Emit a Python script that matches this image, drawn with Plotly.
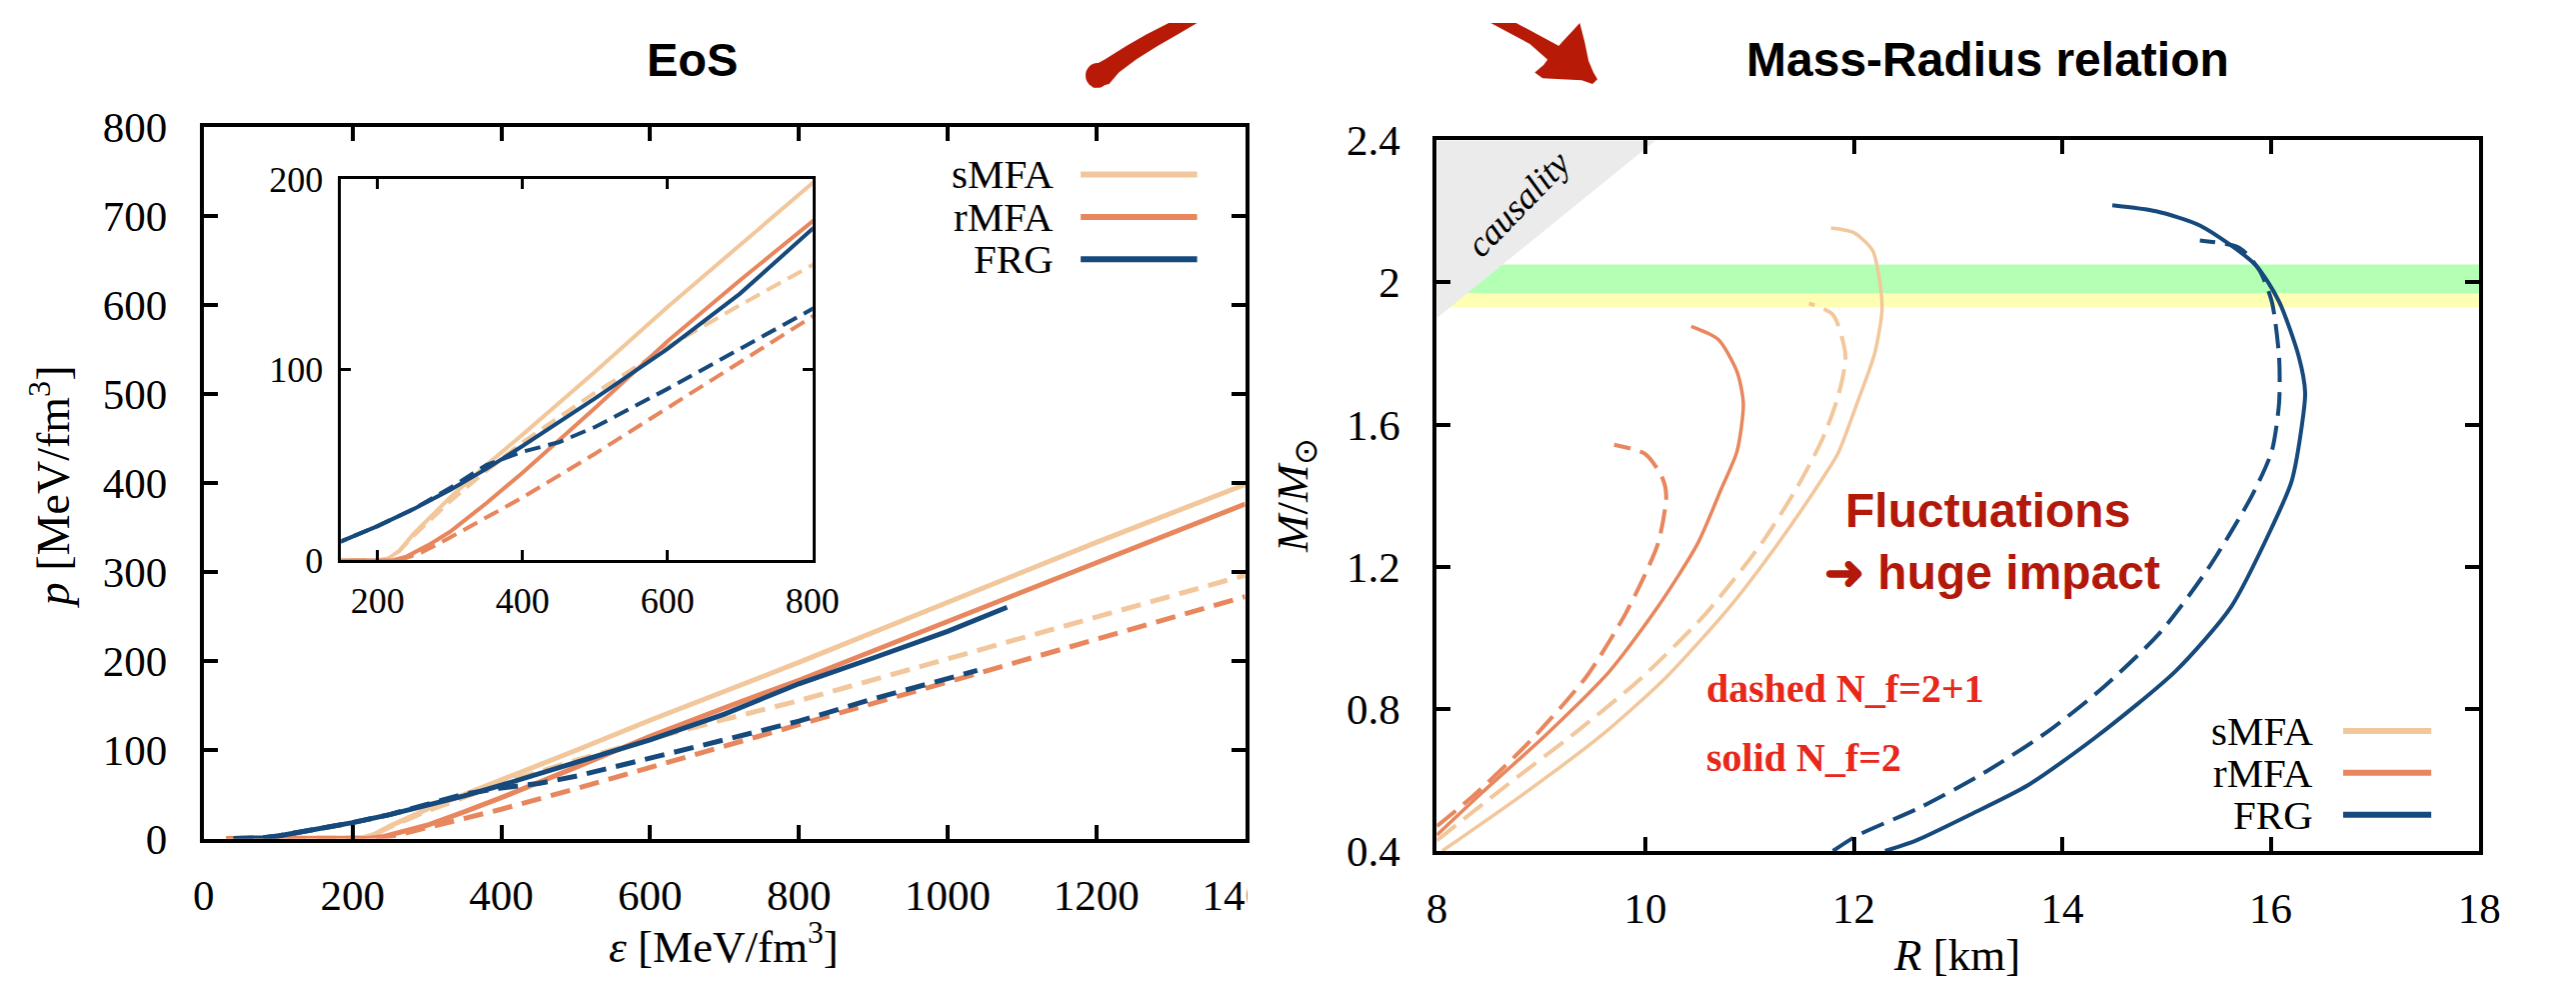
import plotly.graph_objects as go

W, H = 2577, 996

# ---------------- EoS data (eps in MeV/fm^3, p in MeV/fm^3) ----------------
eps_smfa_solid = [30, 200, 215, 230, 250, 300, 350, 400, 500, 600, 800, 1000, 1200, 1400]
p_smfa_solid = [0, 0, 1, 5, 14, 33, 50, 66, 99, 133, 198, 266, 333, 398]

eps_smfa_dash = [30, 200, 215, 230, 250, 300, 350, 400, 500, 600, 700, 800, 1000, 1200, 1400]
p_smfa_dash = [0, 0, 1, 5, 13, 31, 47, 62, 88, 112, 134, 155, 202, 249, 296]

eps_rmfa_solid = [30, 220, 240, 270, 300, 350, 400, 500, 600, 700, 800, 1000, 1200, 1400]
p_rmfa_solid = [0, 0, 2, 8, 15, 30, 46, 80, 115, 147, 178, 244, 310, 376]

eps_rmfa_dash = [30, 230, 260, 300, 400, 500, 600, 700, 800, 1000, 1200, 1400]
p_rmfa_dash = [0, 0, 4, 12, 33, 56, 80, 104, 128, 176, 224, 272]

eps_frg_solid = [40, 80, 100, 150, 200, 250, 300, 350, 400, 500, 600, 700, 800, 900, 1000, 1080]
p_frg_solid = [0, 1, 3, 10, 18, 27, 37, 48, 60, 85, 111, 140, 174, 203, 233, 260]

eps_frg_dash = [40, 80, 100, 150, 200, 250, 300, 350, 400, 450, 500, 600, 700, 800, 900, 1040]
p_frg_dash = [0, 1, 3, 10, 18, 27, 38, 50, 57, 62, 70, 90, 111, 132, 157, 189]

# ---------------- Mass-Radius data (R in km, M in M_sun) ----------------
R_smfa_solid = [8.05, 8.82, 9.59, 10.2, 10.81, 11.27, 11.69, 11.85, 12.03, 12.2, 12.27, 12.25, 12.18, 12.0, 11.78]
M_smfa_solid = [0.40, 0.558, 0.728, 0.889, 1.087, 1.264, 1.444, 1.52, 1.659, 1.80, 1.92, 2.0, 2.09, 2.14, 2.153]

R_smfa_dash = [8.0, 8.67, 9.35, 9.97, 10.58, 11.11, 11.45, 11.70, 11.85, 11.92, 11.8, 11.57]
M_smfa_dash = [0.43, 0.585, 0.738, 0.889, 1.068, 1.264, 1.42, 1.56, 1.68, 1.793, 1.909, 1.941]

R_rmfa_solid = [8.0, 8.44, 9.05, 9.66, 10.12, 10.5, 10.73, 10.88, 10.94, 10.88, 10.7, 10.44]
M_rmfa_solid = [0.445, 0.566, 0.728, 0.907, 1.087, 1.264, 1.42, 1.525, 1.659, 1.748, 1.839, 1.876]

R_rmfa_dash = [8.0, 8.36, 8.9, 9.43, 9.81, 10.12, 10.2, 10.16, 10.0, 9.70]
M_rmfa_dash = [0.47, 0.558, 0.711, 0.889, 1.068, 1.264, 1.40, 1.452, 1.517, 1.543]

R_frg_solid = [12.3, 12.6, 13.1, 13.67, 14.32, 15.09, 15.62, 16.01, 16.2, 16.3, 16.33, 16.27, 16.08, 15.85, 15.32, 14.9, 14.48]
M_frg_solid = [0.40, 0.43, 0.50, 0.585, 0.72, 0.907, 1.087, 1.31, 1.44, 1.6, 1.69, 1.79, 1.946, 2.05, 2.16, 2.20, 2.217]

R_frg_dash = [11.8, 12.03, 12.64, 13.25, 13.87, 14.4, 14.94, 15.4, 15.82, 16.01, 16.08, 16.08, 16.01, 15.89, 15.7, 15.32]
M_frg_dash = [0.40, 0.443, 0.523, 0.62, 0.738, 0.862, 1.015, 1.195, 1.40, 1.525, 1.66, 1.79, 1.946, 2.035, 2.097, 2.118]

causality_R = [8.0, 8.0, 10.1]
causality_M = [1.9, 2.4, 2.4]
band_green = [1.97, 2.05]
band_yellow = [1.93, 1.97]

# ---------------- ticks ----------------
eos_xticks = [0, 200, 400, 600, 800, 1000, 1200, 1400]
eos_yticks = [0, 100, 200, 300, 400, 500, 600, 700, 800]
inset_xticks = [200, 400, 600, 800]
inset_yticks = [0, 100, 200]
mr_xticks = [8, 10, 12, 14, 16, 18]
mr_yticks = [0.4, 0.8, 1.2, 1.6, 2.0, 2.4]
mr_yticklabels = ["0.4", "0.8", "1.2", "1.6", "2", "2.4"]

legend_names = ["sMFA", "rMFA", "FRG"]

C_S = "#f2c79b"
C_R = "#e8875e"
C_F = "#174a7c"
SERIF = "Liberation Serif, Times New Roman, serif"
SANS = "Liberation Sans, Arial, sans-serif"


def px(x):
    return x / W


def py(y):
    return 1 - y / H


fig = go.Figure()

eos_sets = [
    (eps_smfa_dash, p_smfa_dash, C_S, True),
    (eps_rmfa_dash, p_rmfa_dash, C_R, True),
    (eps_smfa_solid, p_smfa_solid, C_S, False),
    (eps_rmfa_solid, p_rmfa_solid, C_R, False),
    (eps_frg_dash, p_frg_dash, C_F, True),
    (eps_frg_solid, p_frg_solid, C_F, False),
]
for xs, ys, c, d in eos_sets:
    fig.add_trace(go.Scatter(x=xs, y=ys, mode="lines", xaxis="x", yaxis="y",
                             line=dict(color=c, width=5, dash="20px,10px" if d else "solid"),
                             showlegend=False, hoverinfo="skip"))
for xs, ys, c, d in eos_sets:
    fig.add_trace(go.Scatter(x=xs, y=ys, mode="lines", xaxis="x3", yaxis="y3",
                             line=dict(color=c, width=4, dash="16px,8px" if d else "solid"),
                             showlegend=False, hoverinfo="skip"))

# causality triangle
fig.add_trace(go.Scatter(x=causality_R, y=causality_M, mode="lines", fill="toself",
                         fillcolor="#ebebeb", line=dict(width=0, color="#ebebeb"),
                         xaxis="x2", yaxis="y2", showlegend=False, hoverinfo="skip"))

mr_sets = [
    (R_smfa_dash, M_smfa_dash, C_S, True, 4),
    (R_smfa_solid, M_smfa_solid, C_S, False, 3.5),
    (R_rmfa_dash, M_rmfa_dash, C_R, True, 4),
    (R_rmfa_solid, M_rmfa_solid, C_R, False, 3.5),
    (R_frg_dash, M_frg_dash, C_F, True, 4),
    (R_frg_solid, M_frg_solid, C_F, False, 4),
]
for xs, ys, c, d, w in mr_sets:
    fig.add_trace(go.Scatter(x=xs, y=ys, mode="lines", xaxis="x2", yaxis="y2",
                             line=dict(color=c, width=w, dash="24px,10px" if d else "solid",
                                       shape="spline", smoothing=0.7),
                             showlegend=False, hoverinfo="skip"))

tickfont = dict(family=SERIF, size=43, color="black")
ax_common = dict(showline=True, linecolor="black", linewidth=4, mirror="ticks",
                 ticks="inside", ticklen=14, tickwidth=4, tickcolor="black",
                 showgrid=False, zeroline=False, tickfont=tickfont, fixedrange=True)
inset_font = dict(family=SERIF, size=36, color="black")

fig.update_layout(
    width=W, height=H, margin=dict(l=0, r=0, t=0, b=0),
    font=dict(family=SERIF, size=42, color="black"),
    paper_bgcolor="white", plot_bgcolor="white", showlegend=False,
    xaxis=dict(domain=[px(197), px(1261)], range=[0, 1400], tickvals=eos_xticks,
               anchor="y", ticklabelstandoff=16, **ax_common),
    yaxis=dict(domain=[py(856), py(109)], range=[0, 800], tickvals=eos_yticks,
               anchor="x", ticklabelstandoff=24, **ax_common),
    xaxis2=dict(domain=[px(1457), px(2522)], range=[8, 18], tickvals=mr_xticks,
                anchor="y2", ticklabelstandoff=16, **ax_common),
    yaxis2=dict(domain=[py(869), py(123)], range=[0.4, 2.4], tickvals=mr_yticks,
                ticktext=mr_yticklabels, anchor="x2", ticklabelstandoff=24, **ax_common),
    xaxis3=dict(domain=[px(337.5), px(819)], range=[150, 800], tickvals=inset_xticks,
                anchor="y3", showline=True, linecolor="black", linewidth=3, mirror="ticks",
                ticks="inside", ticklen=10, tickwidth=3, tickcolor="black", showgrid=False,
                zeroline=False, ticklabelstandoff=6, tickfont=inset_font, fixedrange=True),
    yaxis3=dict(domain=[py(564), py(164)], range=[0, 200], tickvals=inset_yticks,
                anchor="x3", showline=True, linecolor="black", linewidth=3, mirror="ticks",
                ticks="inside", ticklen=10, tickwidth=3, tickcolor="black", showgrid=False,
                zeroline=False, ticklabelstandoff=8, tickfont=inset_font, fixedrange=True),
)

shapes = []
# observational bands
shapes.append(dict(type="rect", xref="x2", yref="y2", x0=8, x1=18, y0=band_yellow[0], y1=band_yellow[1],
                   fillcolor="#ffffb3", line=dict(width=0), layer="below"))
shapes.append(dict(type="rect", xref="x2", yref="y2", x0=8, x1=18, y0=band_green[0], y1=band_green[1],
                   fillcolor="#b3ffb3", line=dict(width=0), layer="below"))

# legends
for i, (name, c) in enumerate(zip(legend_names, [C_S, C_R, C_F])):
    yl = 159 + i * 44.5
    shapes.append(dict(type="line", xref="paper", yref="paper", x0=px(1093), x1=px(1212),
                       y0=py(yl), y1=py(yl), line=dict(color=c, width=6)))
    yr = 743 + i * 44
    shapes.append(dict(type="line", xref="paper", yref="paper", x0=px(2383), x1=px(2473),
                       y0=py(yr), y1=py(yr), line=dict(color=c, width=6)))


def path(pts):
    return "M " + " L ".join(f"{px(x):.5f},{py(y):.5f}" for x, y in pts) + " Z"


RED = "#b71a06"
# left brush stroke (start of the curved arrow)
shapes.append(dict(type="path", xref="paper", yref="paper", fillcolor=RED, line=dict(width=0),
                   path=path([(1183, 0), (1212, 0), (1192, 12), (1172, 24), (1150, 38), (1132, 52),
                              (1122, 64), (1106, 68), (1099, 58), (1104, 46), (1118, 38), (1140, 24),
                              (1160, 12)])))
shapes.append(dict(type="circle", xref="paper", yref="paper", fillcolor=RED, line=dict(width=0),
                   x0=px(1098), x1=px(1122), y0=py(68), y1=py(42)))
# right brush stroke with arrowhead
shapes.append(dict(type="path", xref="paper", yref="paper", fillcolor=RED, line=dict(width=0),
                   path=path([(1512, 0), (1538, 0), (1560, 12), (1585, 26), (1574, 42), (1552, 22)])))
shapes.append(dict(type="path", xref="paper", yref="paper", fillcolor=RED, line=dict(width=0),
                   path=path([(1603, 0), (1608, 20), (1612, 40), (1617, 52), (1621, 59), (1616, 64),
                              (1605, 60), (1585, 59), (1565, 58), (1557, 52), (1566, 44), (1574, 33),
                              (1585, 20), (1596, 8)])))
# white cover clipping the last x tick label like the reference screenshot
shapes.append(dict(type="rect", xref="paper", yref="paper", x0=px(1263), x1=px(1340),
                   y0=py(940), y1=py(868), fillcolor="white", line=dict(width=0), layer="above"))
fig.update_layout(shapes=shapes)

ann = []


def A(text, x, y, size, family=SERIF, color="black", xanchor="center", yanchor="middle", angle=0):
    ann.append(dict(text=text, x=px(x), y=py(y), xref="paper", yref="paper", showarrow=False,
                    xanchor=xanchor, yanchor=yanchor, textangle=angle,
                    font=dict(family=family, size=size, color=color)))


A("<b>EoS</b>", 696, 38, 47, family=SANS)
A("<b>Mass-Radius relation</b>", 2020, 38, 48, family=SANS)

for i, name in enumerate(legend_names):
    A(name, 1067, 159 + i * 44.5, 41, xanchor="right")
    A(name, 2354, 743 + i * 44, 41, xanchor="right")

A("<i>ε</i> [MeV/fm<sup>3</sup>]", 728, 966, 45)
A("<i>p</i> [MeV/fm<sup>3</sup>]", 40, 487, 46, angle=-90)
A("<i>R</i> [km]", 1988, 978, 45)
A("<i>M</i>/<i>M</i><sub>⊙</sub>", 1312, 496, 45, angle=-90)

A("<i>causality</i>", 1540, 190, 36, angle=-46)

A("<b>Fluctuations</b>", 2020, 512, 48, family=SANS, color="#b3190b")
A("<b>➜ huge impact</b>", 2024, 577, 48, family=SANS, color="#b3190b")
A("<b>dashed N_f=2+1</b>", 1730, 698, 40, color="#e8281b", xanchor="left")
A("<b>solid N_f=2</b>", 1730, 771, 40, color="#e8281b", xanchor="left")

fig.update_layout(annotations=ann)

fig.write_html("out.html")
